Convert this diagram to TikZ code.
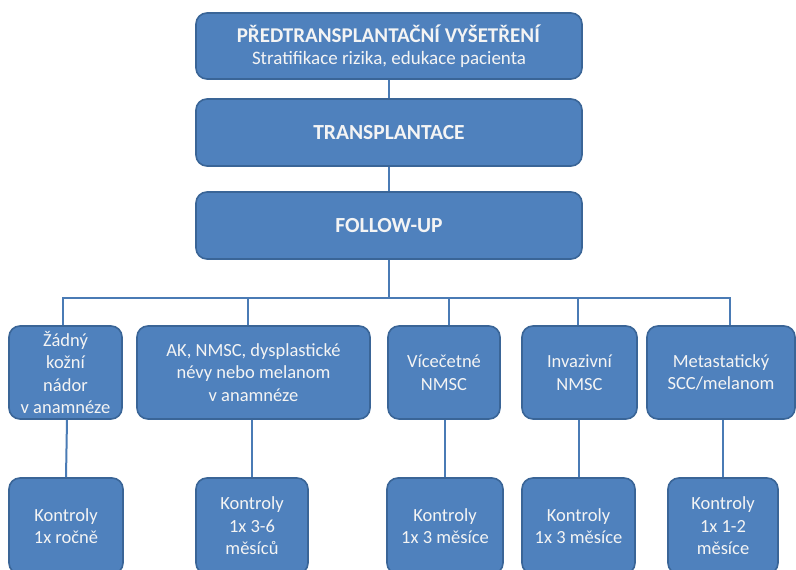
\documentclass[tikz,border=0pt]{standalone}
\usepackage{fontspec}
\setmainfont{Carlito}
\definecolor{boxfill}{HTML}{4F81BD}
\definecolor{boxline}{HTML}{3A6597}
\definecolor{conn}{HTML}{4A7BB5}
\definecolor{txt}{HTML}{F4F4F4}
\begin{document}
\begin{tikzpicture}[x=1pt,y=-1pt,
  box/.style={draw=boxline, line width=1.6pt, fill=boxfill, rounded corners=11pt,
    inner sep=0pt, align=center, text=txt, font=\fontsize{18.5}{22.5}\selectfont},
  conn/.style={draw=conn, line width=2pt}]
\fill[white] (0,0) rectangle (796,570);
\clip (0,0) rectangle (796,570);
% top column
\node[box, minimum width=386pt, minimum height=66pt] (pre) at (389,46)
  {{\fontsize{21}{24}\selectfont\textbf{PŘEDTRANSPLANTAČNÍ VYŠETŘENÍ}}\\[0pt]{\fontsize{19}{23}\selectfont Stratifikace rizika, edukace pacienta}};
\node[box, minimum width=386pt, minimum height=67pt, font=\fontsize{21.5}{24}\selectfont] (tx) at (389,132.5)
  {\textbf{TRANSPLANTACE}};
\node[box, minimum width=386pt, minimum height=67pt, font=\fontsize{21.5}{24}\selectfont] (fu) at (389,225.5)
  {\textbf{FOLLOW-UP}};
% categories
\node[box, minimum width=113pt, minimum height=93pt] (c1) at (65.5,372.5)
  {Žádný\\kožní\\nádor\\v anamnéze};
\node[box, minimum width=233pt, minimum height=93pt] (c2) at (253.5,372.5)
  {AK, NMSC, dysplastické\\névy nebo melanom\\v anamnéze};
\node[box, minimum width=112pt, minimum height=93pt] (c3) at (444,372.5)
  {Vícečetné\\NMSC};
\node[box, minimum width=115pt, minimum height=93pt] (c4) at (579.5,372.5)
  {Invazivní\\NMSC};
\node[box, minimum width=148pt, minimum height=93pt] (c5) at (721,372.5)
  {Metastatický\\SCC/melanom};
% controls
\node[box, minimum width=114pt, minimum height=96pt] (k1) at (66,526)
  {Kontroly\\1x ročně};
\node[box, minimum width=112pt, minimum height=96pt] (k2) at (252,526)
  {Kontroly\\1x 3-6\\měsíců};
\node[box, minimum width=116pt, minimum height=96pt] (k3) at (445,526)
  {Kontroly\\1x 3 měsíce};
\node[box, minimum width=113pt, minimum height=96pt] (k4) at (578.5,526)
  {Kontroly\\1x 3 měsíce};
\node[box, minimum width=110pt, minimum height=96pt] (k5) at (723,526)
  {Kontroly\\1x 1-2\\měsíce};
% connectors
\coordinate (bus) at (389,298);
\draw[conn] (pre.south) -- (tx.north);
\draw[conn] (tx.south) -- (fu.north);
\draw[conn] (fu.south) -- (bus);
\draw[conn] (bus) -| ([xshift=-2.5pt]c1.north);
\draw[conn] (bus) -| ([xshift=-5.5pt]c2.north);
\draw[conn] (bus) -| ([xshift=5pt]c3.north);
\draw[conn] (bus) -| ([xshift=-1.5pt]c4.north);
\draw[conn] (bus) -| ([xshift=9pt]c5.north);
\draw[conn] ([xshift=1.5pt]c1.south) -- (k1.north);
\draw[conn] ([xshift=-1.5pt]c2.south) -- (k2.north);
\draw[conn] ([xshift=1pt]c3.south) -- (k3.north);
\draw[conn] ([xshift=-1pt]c4.south) -- (k4.north);
\draw[conn] ([xshift=2pt]c5.south) -- (k5.north);
\end{tikzpicture}
\end{document}
